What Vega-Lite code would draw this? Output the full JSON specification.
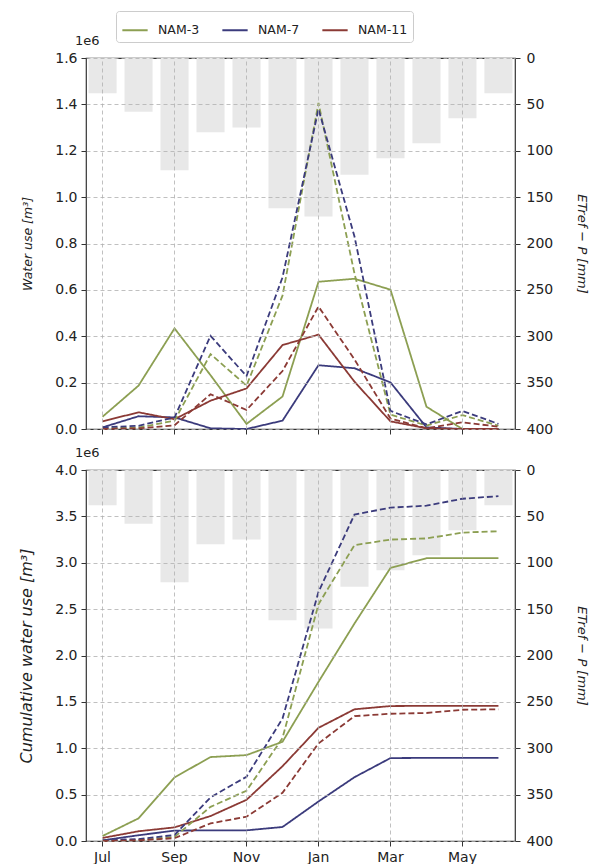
{
  "$schema": "https://vega.github.io/schema/vega-lite/v6.json",
  "padding": {"left": 18, "top": 10, "right": 5, "bottom": 5},
  "background": "white",
  "config": {
    "font": "DejaVu Sans",
    "view": {"stroke": "#333333", "strokeWidth": 1.2},
    "axis": {"labelFont": "DejaVu Sans", "labelFontSize": 14, "labelColor": "#222", "titleFont": "DejaVu Sans", "titleFontSize": 13, "titleFontWeight": "normal", "titleColor": "#222", "tickColor": "#333", "tickSize": 5, "labelPadding": 4, "domain": false, "gridColor": "#b0b0b0", "gridDash": [4, 3], "gridWidth": 0.8},
    "legend": {"labelFont": "DejaVu Sans", "labelFontSize": 12.5, "labelColor": "#222"}
  },
  "datasets": {
    "etp": [
      {"month": "Jul", "etp": 38}, {"month": "Aug", "etp": 58}, {"month": "Sep", "etp": 121}, {"month": "Oct", "etp": 80},
      {"month": "Nov", "etp": 75}, {"month": "Dec", "etp": 162}, {"month": "Jan", "etp": 171}, {"month": "Feb", "etp": 126},
      {"month": "Mar", "etp": 108}, {"month": "Apr", "etp": 92}, {"month": "May", "etp": 65}, {"month": "Jun", "etp": 38}
    ],
    "use": [
      {"month": "Jul", "series": "NAM-3", "kind": "solid", "value": 53000},
      {"month": "Aug", "series": "NAM-3", "kind": "solid", "value": 187000},
      {"month": "Sep", "series": "NAM-3", "kind": "solid", "value": 434000},
      {"month": "Oct", "series": "NAM-3", "kind": "solid", "value": 232000},
      {"month": "Nov", "series": "NAM-3", "kind": "solid", "value": 22000},
      {"month": "Dec", "series": "NAM-3", "kind": "solid", "value": 140000},
      {"month": "Jan", "series": "NAM-3", "kind": "solid", "value": 635000},
      {"month": "Feb", "series": "NAM-3", "kind": "solid", "value": 648000},
      {"month": "Mar", "series": "NAM-3", "kind": "solid", "value": 601000},
      {"month": "Apr", "series": "NAM-3", "kind": "solid", "value": 96000},
      {"month": "May", "series": "NAM-3", "kind": "solid", "value": 0},
      {"month": "Jun", "series": "NAM-3", "kind": "solid", "value": 0},
      {"month": "Jul", "series": "NAM-7", "kind": "solid", "value": 7000},
      {"month": "Aug", "series": "NAM-7", "kind": "solid", "value": 55000},
      {"month": "Sep", "series": "NAM-7", "kind": "solid", "value": 50000},
      {"month": "Oct", "series": "NAM-7", "kind": "solid", "value": 3000},
      {"month": "Nov", "series": "NAM-7", "kind": "solid", "value": 0},
      {"month": "Dec", "series": "NAM-7", "kind": "solid", "value": 36000},
      {"month": "Jan", "series": "NAM-7", "kind": "solid", "value": 275000},
      {"month": "Feb", "series": "NAM-7", "kind": "solid", "value": 262000},
      {"month": "Mar", "series": "NAM-7", "kind": "solid", "value": 201000},
      {"month": "Apr", "series": "NAM-7", "kind": "solid", "value": 7000},
      {"month": "May", "series": "NAM-7", "kind": "solid", "value": 0},
      {"month": "Jun", "series": "NAM-7", "kind": "solid", "value": 0},
      {"month": "Jul", "series": "NAM-11", "kind": "solid", "value": 33000},
      {"month": "Aug", "series": "NAM-11", "kind": "solid", "value": 72000},
      {"month": "Sep", "series": "NAM-11", "kind": "solid", "value": 42000},
      {"month": "Oct", "series": "NAM-11", "kind": "solid", "value": 122000},
      {"month": "Nov", "series": "NAM-11", "kind": "solid", "value": 175000},
      {"month": "Dec", "series": "NAM-11", "kind": "solid", "value": 362000},
      {"month": "Jan", "series": "NAM-11", "kind": "solid", "value": 407000},
      {"month": "Feb", "series": "NAM-11", "kind": "solid", "value": 204000},
      {"month": "Mar", "series": "NAM-11", "kind": "solid", "value": 33000},
      {"month": "Apr", "series": "NAM-11", "kind": "solid", "value": 3000},
      {"month": "May", "series": "NAM-11", "kind": "solid", "value": 0},
      {"month": "Jun", "series": "NAM-11", "kind": "solid", "value": 0},
      {"month": "Jul", "series": "NAM-3", "kind": "dashed", "value": 3000},
      {"month": "Aug", "series": "NAM-3", "kind": "dashed", "value": 6000},
      {"month": "Sep", "series": "NAM-3", "kind": "dashed", "value": 36000},
      {"month": "Oct", "series": "NAM-3", "kind": "dashed", "value": 323000},
      {"month": "Nov", "series": "NAM-3", "kind": "dashed", "value": 187000},
      {"month": "Dec", "series": "NAM-3", "kind": "dashed", "value": 575000},
      {"month": "Jan", "series": "NAM-3", "kind": "dashed", "value": 1406000},
      {"month": "Feb", "series": "NAM-3", "kind": "dashed", "value": 670000},
      {"month": "Mar", "series": "NAM-3", "kind": "dashed", "value": 62000},
      {"month": "Apr", "series": "NAM-3", "kind": "dashed", "value": 15000},
      {"month": "May", "series": "NAM-3", "kind": "dashed", "value": 60000},
      {"month": "Jun", "series": "NAM-3", "kind": "dashed", "value": 14000},
      {"month": "Jul", "series": "NAM-7", "kind": "dashed", "value": 7000},
      {"month": "Aug", "series": "NAM-7", "kind": "dashed", "value": 14000},
      {"month": "Sep", "series": "NAM-7", "kind": "dashed", "value": 50000},
      {"month": "Oct", "series": "NAM-7", "kind": "dashed", "value": 402000},
      {"month": "Nov", "series": "NAM-7", "kind": "dashed", "value": 228000},
      {"month": "Dec", "series": "NAM-7", "kind": "dashed", "value": 654000},
      {"month": "Jan", "series": "NAM-7", "kind": "dashed", "value": 1380000},
      {"month": "Feb", "series": "NAM-7", "kind": "dashed", "value": 830000},
      {"month": "Mar", "series": "NAM-7", "kind": "dashed", "value": 78000},
      {"month": "Apr", "series": "NAM-7", "kind": "dashed", "value": 20000},
      {"month": "May", "series": "NAM-7", "kind": "dashed", "value": 78000},
      {"month": "Jun", "series": "NAM-7", "kind": "dashed", "value": 22000},
      {"month": "Jul", "series": "NAM-11", "kind": "dashed", "value": 0},
      {"month": "Aug", "series": "NAM-11", "kind": "dashed", "value": 3000},
      {"month": "Sep", "series": "NAM-11", "kind": "dashed", "value": 16000},
      {"month": "Oct", "series": "NAM-11", "kind": "dashed", "value": 150000},
      {"month": "Nov", "series": "NAM-11", "kind": "dashed", "value": 82000},
      {"month": "Dec", "series": "NAM-11", "kind": "dashed", "value": 250000},
      {"month": "Jan", "series": "NAM-11", "kind": "dashed", "value": 528000},
      {"month": "Feb", "series": "NAM-11", "kind": "dashed", "value": 300000},
      {"month": "Mar", "series": "NAM-11", "kind": "dashed", "value": 45000},
      {"month": "Apr", "series": "NAM-11", "kind": "dashed", "value": 3000},
      {"month": "May", "series": "NAM-11", "kind": "dashed", "value": 29000},
      {"month": "Jun", "series": "NAM-11", "kind": "dashed", "value": 10000}
    ],
    "cum": [
      {"month": "Jul", "series": "NAM-3", "kind": "solid", "value": 54000},
      {"month": "Aug", "series": "NAM-3", "kind": "solid", "value": 244000},
      {"month": "Sep", "series": "NAM-3", "kind": "solid", "value": 686000},
      {"month": "Oct", "series": "NAM-3", "kind": "solid", "value": 905000},
      {"month": "Nov", "series": "NAM-3", "kind": "solid", "value": 926000},
      {"month": "Dec", "series": "NAM-3", "kind": "solid", "value": 1070000},
      {"month": "Jan", "series": "NAM-3", "kind": "solid", "value": 1716000},
      {"month": "Feb", "series": "NAM-3", "kind": "solid", "value": 2345000},
      {"month": "Mar", "series": "NAM-3", "kind": "solid", "value": 2944000},
      {"month": "Apr", "series": "NAM-3", "kind": "solid", "value": 3049000},
      {"month": "May", "series": "NAM-3", "kind": "solid", "value": 3049000},
      {"month": "Jun", "series": "NAM-3", "kind": "solid", "value": 3049000},
      {"month": "Jul", "series": "NAM-7", "kind": "solid", "value": 7000},
      {"month": "Aug", "series": "NAM-7", "kind": "solid", "value": 62000},
      {"month": "Sep", "series": "NAM-7", "kind": "solid", "value": 112000},
      {"month": "Oct", "series": "NAM-7", "kind": "solid", "value": 115000},
      {"month": "Nov", "series": "NAM-7", "kind": "solid", "value": 115000},
      {"month": "Dec", "series": "NAM-7", "kind": "solid", "value": 151000},
      {"month": "Jan", "series": "NAM-7", "kind": "solid", "value": 426000},
      {"month": "Feb", "series": "NAM-7", "kind": "solid", "value": 688000},
      {"month": "Mar", "series": "NAM-7", "kind": "solid", "value": 894000},
      {"month": "Apr", "series": "NAM-7", "kind": "solid", "value": 896000},
      {"month": "May", "series": "NAM-7", "kind": "solid", "value": 896000},
      {"month": "Jun", "series": "NAM-7", "kind": "solid", "value": 896000},
      {"month": "Jul", "series": "NAM-11", "kind": "solid", "value": 33000},
      {"month": "Aug", "series": "NAM-11", "kind": "solid", "value": 105000},
      {"month": "Sep", "series": "NAM-11", "kind": "solid", "value": 147000},
      {"month": "Oct", "series": "NAM-11", "kind": "solid", "value": 269000},
      {"month": "Nov", "series": "NAM-11", "kind": "solid", "value": 444000},
      {"month": "Dec", "series": "NAM-11", "kind": "solid", "value": 806000},
      {"month": "Jan", "series": "NAM-11", "kind": "solid", "value": 1220000},
      {"month": "Feb", "series": "NAM-11", "kind": "solid", "value": 1420000},
      {"month": "Mar", "series": "NAM-11", "kind": "solid", "value": 1455000},
      {"month": "Apr", "series": "NAM-11", "kind": "solid", "value": 1457000},
      {"month": "May", "series": "NAM-11", "kind": "solid", "value": 1457000},
      {"month": "Jun", "series": "NAM-11", "kind": "solid", "value": 1457000},
      {"month": "Jul", "series": "NAM-3", "kind": "dashed", "value": 3000},
      {"month": "Aug", "series": "NAM-3", "kind": "dashed", "value": 9000},
      {"month": "Sep", "series": "NAM-3", "kind": "dashed", "value": 45000},
      {"month": "Oct", "series": "NAM-3", "kind": "dashed", "value": 368000},
      {"month": "Nov", "series": "NAM-3", "kind": "dashed", "value": 542000},
      {"month": "Dec", "series": "NAM-3", "kind": "dashed", "value": 1110000},
      {"month": "Jan", "series": "NAM-3", "kind": "dashed", "value": 2553000},
      {"month": "Feb", "series": "NAM-3", "kind": "dashed", "value": 3190000},
      {"month": "Mar", "series": "NAM-3", "kind": "dashed", "value": 3250000},
      {"month": "Apr", "series": "NAM-3", "kind": "dashed", "value": 3262000},
      {"month": "May", "series": "NAM-3", "kind": "dashed", "value": 3325000},
      {"month": "Jun", "series": "NAM-3", "kind": "dashed", "value": 3340000},
      {"month": "Jul", "series": "NAM-7", "kind": "dashed", "value": 7000},
      {"month": "Aug", "series": "NAM-7", "kind": "dashed", "value": 21000},
      {"month": "Sep", "series": "NAM-7", "kind": "dashed", "value": 65000},
      {"month": "Oct", "series": "NAM-7", "kind": "dashed", "value": 470000},
      {"month": "Nov", "series": "NAM-7", "kind": "dashed", "value": 693000},
      {"month": "Dec", "series": "NAM-7", "kind": "dashed", "value": 1320000},
      {"month": "Jan", "series": "NAM-7", "kind": "dashed", "value": 2686000},
      {"month": "Feb", "series": "NAM-7", "kind": "dashed", "value": 3520000},
      {"month": "Mar", "series": "NAM-7", "kind": "dashed", "value": 3594000},
      {"month": "Apr", "series": "NAM-7", "kind": "dashed", "value": 3615000},
      {"month": "May", "series": "NAM-7", "kind": "dashed", "value": 3690000},
      {"month": "Jun", "series": "NAM-7", "kind": "dashed", "value": 3718000},
      {"month": "Jul", "series": "NAM-11", "kind": "dashed", "value": 0},
      {"month": "Aug", "series": "NAM-11", "kind": "dashed", "value": 7000},
      {"month": "Sep", "series": "NAM-11", "kind": "dashed", "value": 30000},
      {"month": "Oct", "series": "NAM-11", "kind": "dashed", "value": 190000},
      {"month": "Nov", "series": "NAM-11", "kind": "dashed", "value": 262000},
      {"month": "Dec", "series": "NAM-11", "kind": "dashed", "value": 520000},
      {"month": "Jan", "series": "NAM-11", "kind": "dashed", "value": 1052000},
      {"month": "Feb", "series": "NAM-11", "kind": "dashed", "value": 1346000},
      {"month": "Mar", "series": "NAM-11", "kind": "dashed", "value": 1372000},
      {"month": "Apr", "series": "NAM-11", "kind": "dashed", "value": 1380000},
      {"month": "May", "series": "NAM-11", "kind": "dashed", "value": 1415000},
      {"month": "Jun", "series": "NAM-11", "kind": "dashed", "value": 1420000}
    ]
  },
  "spacing": 9,
  "vconcat": [
    {
      "width": 429,
      "height": 371,
      "title": {"text": "1e6", "anchor": "start", "frame": "group", "fontSize": 13, "fontWeight": "normal", "font": "DejaVu Sans", "color": "#222", "offset": 3, "dx": -11},
      "layer": [
        {
          "data": {"name": "etp"},
          "mark": {"type": "bar", "color": "#e8e8e8"},
          "encoding": {
            "x": {"field": "month", "type": "ordinal", "sort": ["Jul","Aug","Sep","Oct","Nov","Dec","Jan","Feb","Mar","Apr","May","Jun"], "scale": {"paddingInner": 0.22, "paddingOuter": 0.07}, "axis": {"title": null, "labels": false, "values": ["Jul","Sep","Nov","Jan","Mar","May"], "grid": true, "zindex": 1}},
            "y": {"field": "etp", "type": "quantitative", "scale": {"domain": [0, 400], "reverse": true, "nice": false}, "axis": {"orient": "right", "values": [0,50,100,150,200,250,300,350,400], "grid": false, "labelPadding": 6, "title": "ETref − P [mm]", "titleFontStyle": "italic", "titlePadding": 22}}
          }
        },
        {
          "data": {"name": "use"},
          "mark": {"type": "line", "strokeWidth": 1.8},
          "encoding": {
            "x": {"field": "month", "type": "ordinal", "sort": ["Jul","Aug","Sep","Oct","Nov","Dec","Jan","Feb","Mar","Apr","May","Jun"]},
            "y": {"field": "value", "type": "quantitative", "scale": {"domain": [0, 1600000], "nice": false}, "axis": {"orient": "left", "values": [0,200000,400000,600000,800000,1000000,1200000,1400000,1600000], "labelExpr": "format(datum.value/1000000, '.1f')", "grid": true, "zindex": 1, "title": "Water use [m³]", "titleFontSize": 12.5, "titleFontStyle": "italic", "titlePadding": 20}},
            "color": {"field": "series", "type": "nominal", "sort": ["NAM-3","NAM-7","NAM-11"], "scale": {"domain": ["NAM-3","NAM-7","NAM-11"], "range": ["#8c9f52", "#3b3b7c", "#8b3a35"]}, "legend": {"title": null, "orient": "none", "direction": "horizontal", "legendX": 30, "legendY": -47, "symbolType": "stroke", "symbolSize": 640, "symbolStrokeWidth": 2, "labelOffset": 9, "columnPadding": 18, "strokeColor": "#cccccc", "fillColor": "white", "cornerRadius": 3, "padding": 5}},
            "strokeDash": {"field": "kind", "type": "nominal", "scale": {"domain": ["solid","dashed"], "range": [[1,0],[6,3]]}, "legend": null},
            "detail": {"field": "kind"}
          }
        }
      ],
      "resolve": {"scale": {"y": "independent"}}
    },
    {
      "width": 429,
      "height": 371,
      "title": {"text": "1e6", "anchor": "start", "frame": "group", "fontSize": 13, "fontWeight": "normal", "font": "DejaVu Sans", "color": "#222", "offset": 3, "dx": -11},
      "layer": [
        {
          "data": {"name": "etp"},
          "mark": {"type": "bar", "color": "#e8e8e8"},
          "encoding": {
            "x": {"field": "month", "type": "ordinal", "sort": ["Jul","Aug","Sep","Oct","Nov","Dec","Jan","Feb","Mar","Apr","May","Jun"], "scale": {"paddingInner": 0.22, "paddingOuter": 0.07}, "axis": {"title": null, "labelAngle": 0, "values": ["Jul","Sep","Nov","Jan","Mar","May"], "grid": true, "zindex": 1}},
            "y": {"field": "etp", "type": "quantitative", "scale": {"domain": [0, 400], "reverse": true, "nice": false}, "axis": {"orient": "right", "values": [0,50,100,150,200,250,300,350,400], "grid": false, "labelPadding": 6, "title": "ETref − P [mm]", "titleFontStyle": "italic", "titlePadding": 22}}
          }
        },
        {
          "data": {"name": "cum"},
          "mark": {"type": "line", "strokeWidth": 1.8},
          "encoding": {
            "x": {"field": "month", "type": "ordinal", "sort": ["Jul","Aug","Sep","Oct","Nov","Dec","Jan","Feb","Mar","Apr","May","Jun"]},
            "y": {"field": "value", "type": "quantitative", "scale": {"domain": [0, 4000000], "nice": false}, "axis": {"orient": "left", "values": [0,500000,1000000,1500000,2000000,2500000,3000000,3500000,4000000], "labelExpr": "format(datum.value/1000000, '.1f')", "grid": true, "zindex": 1, "title": "Cumulative water use [m³]", "titleFontSize": 16, "titleFontStyle": "italic", "titlePadding": 20}},
            "color": {"field": "series", "type": "nominal", "sort": ["NAM-3","NAM-7","NAM-11"], "scale": {"domain": ["NAM-3","NAM-7","NAM-11"], "range": ["#8c9f52", "#3b3b7c", "#8b3a35"]}, "legend": {"title": null, "orient": "none", "direction": "horizontal", "legendX": 30, "legendY": -47, "symbolType": "stroke", "symbolSize": 640, "symbolStrokeWidth": 2, "labelOffset": 9, "columnPadding": 18, "strokeColor": "#cccccc", "fillColor": "white", "cornerRadius": 3, "padding": 5}},
            "strokeDash": {"field": "kind", "type": "nominal", "scale": {"domain": ["solid","dashed"], "range": [[1,0],[6,3]]}, "legend": null},
            "detail": {"field": "kind"}
          }
        }
      ],
      "resolve": {"scale": {"y": "independent"}}
    }
  ]
}
